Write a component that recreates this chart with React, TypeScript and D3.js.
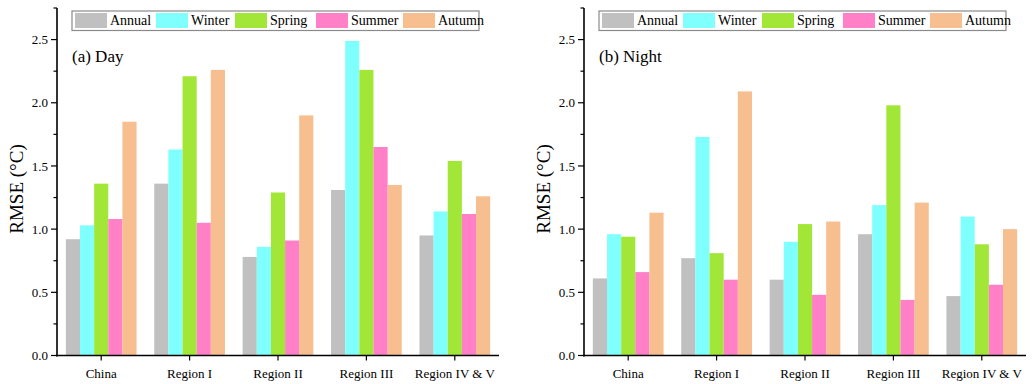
import React from "react";
import { scaleBand, scaleLinear, range } from "d3";

const regions = ["China", "Region I", "Region II", "Region III", "Region IV & V"];
const seasons = ["Annual", "Winter", "Spring", "Summer", "Autumn"];
const colors = ["#c0c0c0", "#80ffff", "#a2e737", "#ff80c6", "#f7be90"];

// RMSE per region, order: Annual, Winter, Spring, Summer, Autumn
const dayValues = [
  [0.92, 1.03, 1.36, 1.08, 1.85],
  [1.36, 1.63, 2.21, 1.05, 2.26],
  [0.78, 0.86, 1.29, 0.91, 1.9],
  [1.31, 2.49, 2.26, 1.65, 1.35],
  [0.95, 1.14, 1.54, 1.12, 1.26],
];
const nightValues = [
  [0.61, 0.96, 0.94, 0.66, 1.13],
  [0.77, 1.73, 0.81, 0.6, 2.09],
  [0.6, 0.9, 1.04, 0.48, 1.06],
  [0.96, 1.19, 1.98, 0.44, 1.21],
  [0.47, 1.1, 0.88, 0.56, 1.0],
];
const yTicks = [0, 0.5, 1.0, 1.5, 2.0, 2.5];

const width = 1032;
const height = 384;
const font = "'Liberation Serif', 'Times New Roman', serif";

function Panel({ dx, title, values }: { dx: number; title: string; values: number[][] }) {
  const x0 = 57 + dx;
  const x1 = 499 + dx;
  const yScale = scaleLinear().domain([0, 2.75]).range([355.5, 8]);
  const xScale = scaleBand<string>().domain(regions).range([x0, x1]).paddingInner(0.2).paddingOuter(0.1);
  const inner = scaleBand<string>().domain(seasons).range([0, xScale.bandwidth()]);
  const minor = range(0.25, 2.8, 0.5);
  const legendW = [42, 40, 42, 48, 47];
  let lx = 75 + dx;
  const legendItems = seasons.map((s, i) => {
    const item = { s, i, x: lx };
    lx += 32 + 4 + legendW[i] + 3;
    return item;
  });
  return (
    <g fontFamily={font}>
      {regions.map((r, ri) => (
        <g key={r} transform={`translate(${xScale(r)},0)`}>
          {seasons.map((s, si) => (
            <rect
              key={s}
              x={inner(s)}
              width={inner.bandwidth()}
              y={yScale(values[ri][si])}
              height={yScale(0) - yScale(values[ri][si])}
              fill={colors[si]}
            />
          ))}
        </g>
      ))}
      {/* y axis */}
      <line x1={x0} x2={x0} y1={yScale(2.75)} y2={yScale(0) + 1} stroke="#000" strokeWidth={1.6} />
      {yTicks.map((t) => (
        <g key={t} transform={`translate(0,${yScale(t)})`}>
          <line x1={x0 - 6} x2={x0} stroke="#000" strokeWidth={1.2} />
          <text x={x0 - 9} dy="0.35em" textAnchor="end" fontSize={13}>
            {t.toFixed(1)}
          </text>
        </g>
      ))}
      {minor.map((t) => (
        <line key={t} x1={x0 - 3.5} x2={x0} y1={yScale(t)} y2={yScale(t)} stroke="#000" strokeWidth={1.2} />
      ))}
      <text
        transform={`translate(${dx + 23},${189}) rotate(-90)`}
        textAnchor="middle"
        fontSize={19}
      >
        RMSE (°C)
      </text>
      {/* x axis */}
      <line x1={x0 - 1} x2={x1} y1={yScale(0)} y2={yScale(0)} stroke="#000" strokeWidth={1.6} />
      {regions.map((r) => {
        const cx = (xScale(r) as number) + xScale.bandwidth() / 2;
        return (
          <g key={r} transform={`translate(${cx},0)`}>
            <line y1={yScale(0)} y2={yScale(0) + 5} stroke="#000" strokeWidth={1.2} />
            <text y={378} textAnchor="middle" fontSize={13}>
              {r}
            </text>
          </g>
        );
      })}
      <text x={72 + dx} y={62} fontSize={17}>
        {title}
      </text>
      {/* legend */}
      <rect x={72 + dx} y={11} width={407} height={19.5} fill="#fff" stroke="#8a8a8a" strokeWidth={1.2} />
      {legendItems.map(({ s, i, x }) => (
        <g key={s}>
          <rect x={x} y={13} width={32} height={15} fill={colors[i]} />
          <text x={x + 35} y={25} fontSize={14}>
            {s}
          </text>
        </g>
      ))}
    </g>
  );
}

export default function App() {
  return (
    <svg
      width={width}
      height={height}
      style={{ position: "absolute", left: 0, top: 0, background: "#fff" }}
    >
      <Panel dx={0} title="(a) Day" values={dayValues} />
      <Panel dx={527} title="(b) Night" values={nightValues} />
    </svg>
  );
}
